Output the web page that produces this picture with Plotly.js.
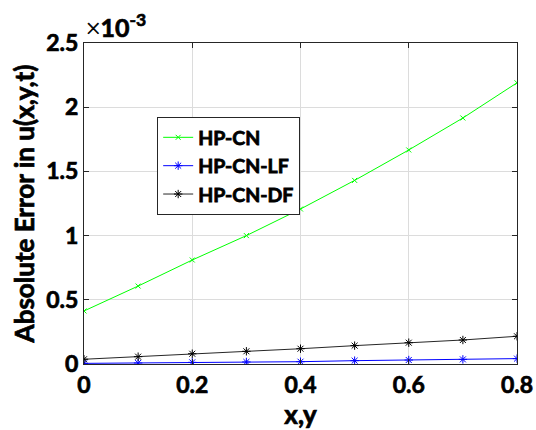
<!DOCTYPE html>
<html>
<head>
<meta charset="utf-8">
<script src="https://cdn.plot.ly/plotly-3.0.1.min.js"></script>
<style>
html,body{margin:0;padding:0;background:#fff;}
#chart{width:536px;height:430px;}
#chart g.xtick text, #chart g.ytick text, #chart text.xtitle, #chart text.ytitle,
#chart .annotation-text { stroke:#000; stroke-width:0.7px; }
#chart text.legendtext { stroke:#000 !important; stroke-width:0.8px !important; }
</style>
</head>
<body>
<div id="chart"></div>
<script>
const xVals = [0, 0.1, 0.2, 0.3, 0.4, 0.5, 0.6, 0.7, 0.8];
const hpCN   = [0.000413, 0.000607, 0.000810, 0.001000, 0.001207, 0.001430, 0.001667, 0.001916, 0.002190];
const hpCNLF = [0.000005, 0.000008, 0.000013, 0.000016, 0.000018, 0.000026, 0.000031, 0.000036, 0.000042];
const hpCNDF = [0.000037, 0.000057, 0.000080, 0.000099, 0.000119, 0.000143, 0.000166, 0.000187, 0.000216];
const seriesNames = ['HP-CN', 'HP-CN-LF', 'HP-CN-DF'];
const yTickVals = [0, 0.0005, 0.001, 0.0015, 0.002, 0.0025];
const yTickText = ['0', '0.5', '1', '1.5', '2', '2.5'];
const xTickVals = [0, 0.2, 0.4, 0.6, 0.8];
const xTickText = ['0', '0.2', '0.4', '0.6', '0.8'];

const FONT = 'Lato, "Open Sans", sans-serif';
const W = 'bold';
const traces = [
  {x: xVals, y: hpCN, name: seriesNames[0], mode: 'lines+markers',
   line: {color: '#00ff00', width: 1}, marker: {symbol: 'x-thin-open', size: 5, color: '#00ff00', line: {width: 1, color: '#00ff00'}}},
  {x: xVals, y: hpCNLF, name: seriesNames[1], mode: 'lines+markers',
   line: {color: '#0000ff', width: 1}, marker: {symbol: 'asterisk-open', size: 7, color: '#0000ff', line: {width: 1, color: '#0000ff'}}},
  {x: xVals, y: hpCNDF, name: seriesNames[2], mode: 'lines+markers',
   line: {color: '#262626', width: 1}, marker: {symbol: 'asterisk-open', size: 7, color: '#000000', line: {width: 1, color: '#000000'}}}
];

const axisCommon = {
  showline: true, linecolor: '#262626', linewidth: 1, mirror: 'ticks',
  ticks: 'inside', ticklen: 5, tickcolor: '#262626',
  showgrid: true, gridcolor: '#dcdcdc', gridwidth: 1, zeroline: false,
  tickfont: {family: FONT, size: 23, color: '#000', weight: W}
};

const layout = {
  width: 536, height: 430,
  margin: {l: 84, r: 19, t: 43, b: 66},
  paper_bgcolor: '#fff', plot_bgcolor: '#fff',
  showlegend: true,
  legend: {x: 0.169, y: 0.769, xanchor: 'left', yanchor: 'top',
    bgcolor: '#fff', bordercolor: '#262626', borderwidth: 1,
    font: {family: FONT, size: 19.5, color: '#000', weight: W},
    tracegroupgap: 0, itemwidth: 30},
  xaxis: Object.assign({}, axisCommon, {range: [0, 0.8], tickvals: xTickVals, ticktext: xTickText,
    title: {text: 'x,y', font: {family: FONT, size: 26, color: '#000', weight: W}, standoff: 4}}),
  yaxis: Object.assign({}, axisCommon, {range: [0, 0.0025], tickvals: yTickVals, ticktext: yTickText,
    title: {text: 'Absolute Error in u(x,y,t)', font: {family: FONT, size: 26, color: '#000', weight: W}, standoff: 4}}),
  annotations: [{
    xref: 'paper', yref: 'paper', x: 0, y: 1, xanchor: 'left', yanchor: 'bottom', yshift: -1,
    showarrow: false, text: '<span style="font-weight:300">×</span>10<sup>-3</sup>',
    font: {family: FONT, size: 25, color: '#000', weight: W}
  }]
};

Plotly.newPlot('chart', traces, layout, {displayModeBar: false, staticPlot: true});
</script>
</body>
</html>
